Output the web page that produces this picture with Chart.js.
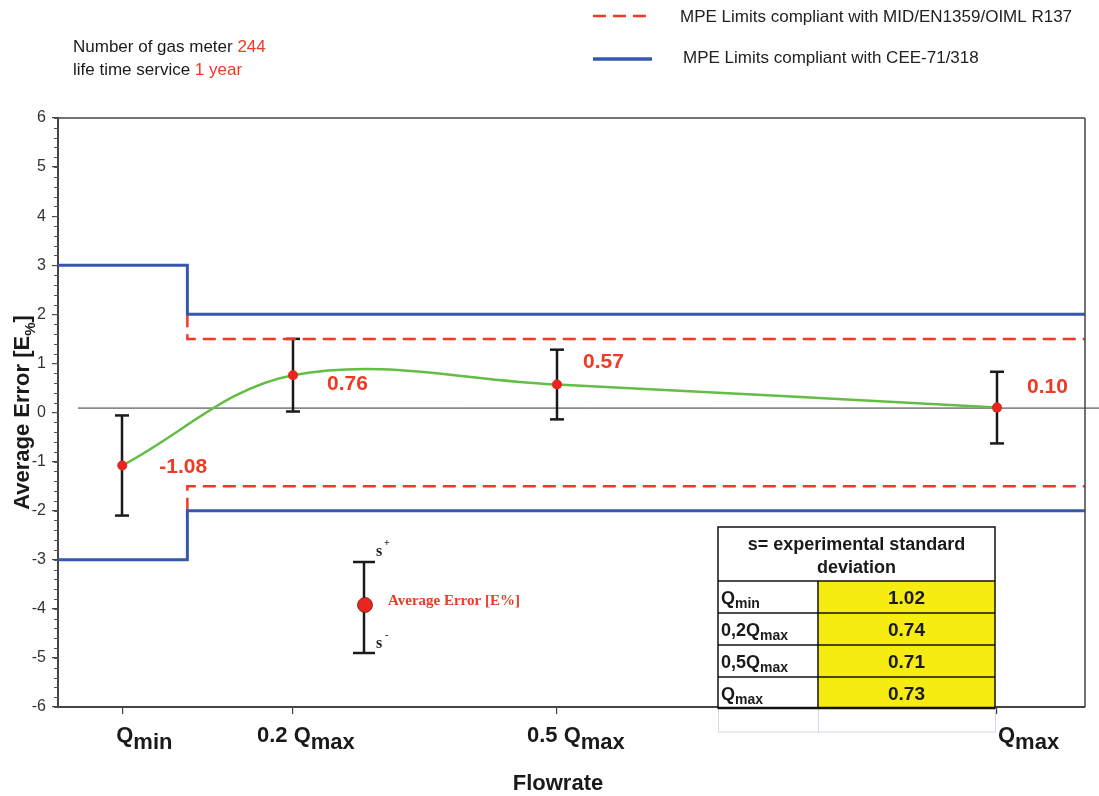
<!DOCTYPE html>
<html><head><meta charset="utf-8">
<script src="https://cdn.jsdelivr.net/npm/chart.js@4.4.1/dist/chart.umd.min.js"></script>
<style>html,body{margin:0;padding:0;background:#fff}#wrap{width:1099px;height:796px;position:relative}</style>
</head><body><div id="wrap"><canvas id="c" width="1099" height="796"></canvas></div>
<script>
// ---------- data ----------
const flowLabels = [['Q','min'],['0.2 Q','max'],['0.5 Q','max'],['Q','max']];
const flowPositions = [0.006, 0.2, 0.5, 1.0];          // fraction of Qmax
const averageError = [-1.08, 0.76, 0.57, 0.10];        // E%
const stdDev = [1.02, 0.74, 0.71, 0.73];               // s
const yTickValues = [-6,-5,-4,-3,-2,-1,0,1,2,3,4,5,6];
const transitionFlow = 0.08;
const xRange = [-0.067, 1.1];
const ceeLimitLow = [3, 2];   // below / above transition flow (±)
const midLimit = 1.5;         // ±
const refLine = 0.09;
const tableHeader = ['s= experimental standard','deviation'];
const tableRowLabels = [['Q','min'],['0,2Q','max'],['0,5Q','max'],['Q','max']];
const meterCount = '244';
const serviceLife = '1 year';
const legendLabels = ['MPE Limits compliant with MID/EN1359/OIML R137','MPE Limits compliant with CEE-71/318'];

// ---------- styles ----------
const RED = '#ee3a24', BLUE = '#3557ad', GREEN = '#64bd45', INK = '#1a1a1a';
const SANS = '"Liberation Sans", Arial, sans-serif';
const SERIF = '"Liberation Serif", "Times New Roman", serif';
const labelOffsets = [[37,2],[34,9],[26,-22],[30,-20]];
const xLabelOffsets = [-6,-36,-30,1];

const [x0, x1] = xRange;
const ds = (label, pts, color, dash, width) => ({
  label, data: pts, borderColor: color, borderDash: dash, borderWidth: width,
  pointRadius: 0, showLine: true, tension: 0, fill: false, clip: false
});
const datasets = [
  { label:'Average Error', data: flowPositions.map((f,i)=>({x:f,y:averageError[i]})),
    borderColor: GREEN, borderWidth: 2.5, showLine: true, tension: 0.36,
    pointRadius: 5, pointHoverRadius: 5, pointBackgroundColor: '#e8261f', pointBorderWidth: 0, fill:false },
  ds(legendLabels[1], [{x:x0,y:ceeLimitLow[0]},{x:transitionFlow,y:ceeLimitLow[0]},{x:transitionFlow,y:ceeLimitLow[1]},{x:x1,y:ceeLimitLow[1]}], BLUE, [], 3),
  ds(legendLabels[1], [{x:x0,y:-ceeLimitLow[0]},{x:transitionFlow,y:-ceeLimitLow[0]},{x:transitionFlow,y:-ceeLimitLow[1]},{x:x1,y:-ceeLimitLow[1]}], BLUE, [], 3),
  ds(legendLabels[0], [{x:transitionFlow,y:ceeLimitLow[1]},{x:transitionFlow,y:midLimit},{x:x1,y:midLimit}], RED, [13,7], 2.5),
  ds(legendLabels[0], [{x:transitionFlow,y:-ceeLimitLow[1]},{x:transitionFlow,y:-midLimit},{x:x1,y:-midLimit}], RED, [13,7], 2.5)
];

function line(ctx,a,b,c,d){ctx.beginPath();ctx.moveTo(a,b);ctx.lineTo(c,d);ctx.stroke();}
function subText(ctx, main, sub, x, y, font, subFont, drop, color){
  ctx.fillStyle = color; ctx.font = font; ctx.textAlign='left';
  ctx.fillText(main, x, y);
  const w = ctx.measureText(main).width;
  ctx.font = subFont; ctx.fillText(sub, x + w, y + drop);
  return w + ctx.measureText(sub).width;
}

const overlay = {
  id: 'overlay',
  beforeDatasetsDraw(chart){
    const {ctx, scales:{x,y}} = chart;
    ctx.save();
    ctx.strokeStyle = '#333'; ctx.lineWidth = 1;
    line(ctx, 78, y.getPixelForValue(refLine), 1099, y.getPixelForValue(refLine));
    ctx.strokeStyle = INK; ctx.lineWidth = 2.5;
    flowPositions.forEach((f,i)=>{
      const px = Math.round(x.getPixelForValue(f));
      const t = y.getPixelForValue(averageError[i]+stdDev[i]);
      const b = y.getPixelForValue(averageError[i]-stdDev[i]);
      line(ctx, px, t, px, b);
      line(ctx, px-7, t, px+7, t);
      line(ctx, px-7, b, px+7, b);
    });
    ctx.restore();
  },
  afterDraw(chart){
    const {ctx, scales:{x,y}, chartArea:ca} = chart;
    ctx.save();
    ctx.strokeStyle = '#444'; ctx.lineWidth = 1.5;
    line(ctx, ca.left, ca.top, ca.right, ca.top);
    line(ctx, ca.right, ca.top, ca.right, ca.bottom);
    ctx.lineWidth = 1; ctx.strokeStyle = '#555';
    for (let v = -6; v <= 6.001; v += 0.2) {
      const py = Math.round(y.getPixelForValue(v)) + 0.5;
      line(ctx, ca.left - 4, py, ca.left, py);
    }
    ctx.font = 'bold 21px ' + SANS; ctx.fillStyle = RED; ctx.textBaseline = 'middle'; ctx.textAlign='left';
    flowPositions.forEach((f,i)=>{
      const px = x.getPixelForValue(f), py = y.getPixelForValue(averageError[i]);
      ctx.fillText(averageError[i].toFixed(2), px + labelOffsets[i][0], py + labelOffsets[i][1]);
    });
    ctx.textBaseline = 'alphabetic';
    flowPositions.forEach((f,i)=>{
      const px = x.getPixelForValue(f);
      subText(ctx, flowLabels[i][0], flowLabels[i][1], px + xLabelOffsets[i], 742,
        'bold 22px '+SANS, 'bold 22px '+SANS, 7, INK);
    });
    ctx.font = 'bold 22px ' + SANS; ctx.textAlign = 'center'; ctx.fillStyle = INK;
    ctx.fillText('Flowrate', 558, 790);
    ctx.save();
    ctx.translate(29, (ca.top+ca.bottom)/2);
    ctx.rotate(-Math.PI/2);
    const p1 = 'Average Error [E', p3 = ']';
    ctx.font = 'bold 22px '+SANS; const w1 = ctx.measureText(p1).width;
    ctx.font = 'bold 15px '+SANS; const w2 = ctx.measureText('%').width;
    ctx.font = 'bold 22px '+SANS; const w3 = ctx.measureText(p3).width;
    const sx = -(w1+w2+w3)/2;
    ctx.textAlign='left'; ctx.fillStyle = INK;
    ctx.fillText(p1, sx, 0);
    ctx.font = 'bold 15px '+SANS; ctx.fillText('%', sx+w1, 6);
    ctx.font = 'bold 22px '+SANS; ctx.fillText(p3, sx+w1+w2, 0);
    ctx.restore();
    ctx.lineWidth = 2.5; ctx.strokeStyle = RED; ctx.setLineDash([13,7]);
    line(ctx, 593, 16, 652, 16);
    ctx.setLineDash([]); ctx.strokeStyle = BLUE; ctx.lineWidth = 3.5;
    line(ctx, 593, 59, 652, 59);
    ctx.font = '17px '+SANS; ctx.fillStyle = '#222'; ctx.textAlign='left'; ctx.textBaseline='middle';
    ctx.fillText(legendLabels[0], 680, 17);
    ctx.fillText(legendLabels[1], 683, 58);
    ctx.font = '17px '+SANS; ctx.fillStyle = INK;
    const a1 = 'Number of gas meter ', a2 = 'life time service ';
    ctx.fillText(a1, 73, 47); ctx.fillStyle = RED; ctx.fillText(meterCount, 73 + ctx.measureText(a1).width, 47);
    ctx.fillStyle = INK; ctx.fillText(a2, 73, 70); ctx.fillStyle = RED; ctx.fillText(serviceLife, 73 + ctx.measureText(a2).width, 70);
    const TL = 718, TR = 995, TS = 818, TT = 527, TH = 581;
    const rows = [581, 613, 645, 677, 708];
    ctx.fillStyle = '#fff'; ctx.fillRect(TL, TT, TR-TL, rows[4]-TT);
    ctx.fillStyle = '#f7ec12'; ctx.fillRect(TS, TH, TR-TS, rows[4]-TH);
    ctx.strokeStyle = '#d6d6ee'; ctx.lineWidth = 1;
    ctx.strokeRect(TL+0.5, rows[4], TR-TL, 24); line(ctx, TS+0.5, rows[4], TS+0.5, rows[4]+24);
    ctx.strokeStyle = '#111'; ctx.lineWidth = 1.5;
    ctx.strokeRect(TL, TT, TR-TL, rows[4]-TT);
    rows.slice(0,4).forEach(r=>line(ctx, TL, r, TR, r));
    line(ctx, TS, TH, TS, rows[4]);
    ctx.lineWidth = 2.5; line(ctx, TL, rows[4], TR, rows[4]);
    ctx.fillStyle = INK; ctx.textAlign='center'; ctx.textBaseline='middle';
    ctx.font = 'bold 18px '+SANS;
    ctx.fillText(tableHeader[0], (TL+TR)/2, 545);
    ctx.fillText(tableHeader[1], (TL+TR)/2, 568);
    ctx.textBaseline='alphabetic';
    tableRowLabels.forEach((lab,i)=>{
      const cy = (rows[i]+rows[i+1])/2;
      subText(ctx, lab[0], lab[1], TL+3, cy+7, 'bold 18px '+SANS, 'bold 14px '+SANS, 4, INK);
      ctx.font = 'bold 19px '+SANS; ctx.textAlign='center';
      ctx.fillText(stdDev[i].toFixed(2), (TS+TR)/2, cy+7);
    });
    ctx.strokeStyle = INK; ctx.lineWidth = 2.5;
    line(ctx, 364, 562, 364, 653); line(ctx, 353, 562, 375, 562); line(ctx, 353, 653, 375, 653);
    ctx.fillStyle = '#e8261f'; ctx.beginPath(); ctx.arc(365, 605, 7.5, 0, Math.PI*2); ctx.fill();
    ctx.strokeStyle = '#7a1a10'; ctx.lineWidth = 0.8; ctx.stroke();
    ctx.fillStyle = INK; ctx.textAlign='left'; ctx.font = 'bold 16px '+SERIF;
    ctx.fillText('s', 376, 556); ctx.fillText('s', 376, 648);
    ctx.font = 'bold 10px '+SERIF; ctx.fillText('+', 384, 546); ctx.fillText('-', 385, 638);
    ctx.fillStyle = RED; ctx.font = 'bold 15px '+SERIF; ctx.textBaseline='middle';
    ctx.fillText('Average Error [E%]', 388, 601);
    ctx.restore();
  }
};

new Chart(document.getElementById('c'), {
  type: 'scatter',
  data: { datasets },
  options: {
    responsive: false, animation: false, devicePixelRatio: 1,
    layout: { padding: { top: 118, right: 14, left: 0, bottom: 0 } },
    plugins: { legend: { display: false }, tooltip: { enabled: false } },
    scales: {
      x: {
        type: 'linear', min: x0, max: x1,
        afterBuildTicks: s => { s.ticks = flowPositions.map(v => ({ value: v })); },
        afterFit: s => { s.height = 89; },
        ticks: { autoSkip: false, callback: () => '', padding: 0 },
        grid: { drawOnChartArea: false, tickLength: 7, color: '#444', lineWidth: 1.2 },
        border: { color: '#444', width: 2 }
      },
      y: {
        min: -6, max: 6,
        afterBuildTicks: s => { s.ticks = yTickValues.map(v => ({ value: v })); },
        afterFit: s => { s.width = 58; },
        ticks: { font: { family: SANS, size: 16 }, color: '#333', padding: 6, callback: v => String(v) },
        grid: { drawOnChartArea: false, tickLength: 6, color: '#444', lineWidth: 1.2 },
        border: { color: '#444', width: 2 }
      }
    }
  },
  plugins: [overlay]
});
</script></body></html>
